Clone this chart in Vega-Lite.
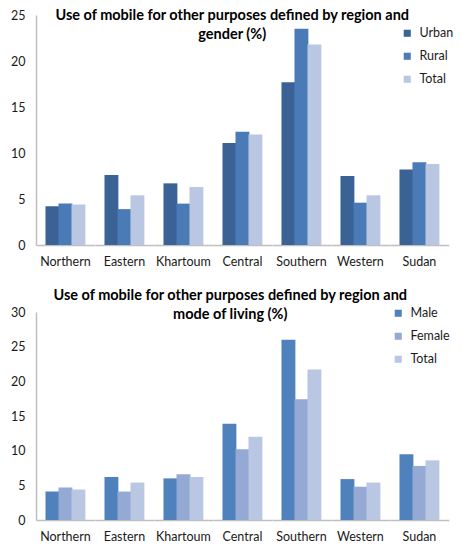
{
  "$schema": "https://vega.github.io/schema/vega-lite/v6.json",
  "background": "white",
  "padding": {"left": 10, "top": 7, "right": 5, "bottom": 5},
  "spacing": 18,
  "config": {
    "font": "Lato",
    "view": {"stroke": null},
    "bar": {"stroke": null, "strokeWidth": 0},
    "axis": {"labelFont": "Lato", "labelFontSize": 12.5, "labelColor": "#1a1a1a", "domainColor": "#BFBFBF", "domainWidth": 1.5, "ticks": false, "tickSize": 0, "grid": false, "title": null},
    "header": {"labelFont": "Lato", "labelFontSize": 12.5, "labelColor": "#1a1a1a", "labelOrient": "bottom", "labelPadding": 11, "title": null},
    "title": {"font": "Lato", "fontSize": 14.5, "fontWeight": "bold", "color": "#000", "anchor": "middle", "lineHeight": 19},
    "legend": {"labelFont": "Lato", "labelFontSize": 12.5, "labelColor": "#1a1a1a", "symbolType": "square", "symbolSize": 50, "symbolStrokeWidth": 0, "rowPadding": 10, "padding": 0, "labelOffset": 6, "title": null}
  },
  "resolve": {"scale": {"color": "independent"}, "legend": {"color": "independent"}},
  "vconcat": [
    {
      "data": {"values": [
        {"region": "Northern", "type": "Urban", "value": 4.2},
        {"region": "Northern", "type": "Rural", "value": 4.5},
        {"region": "Northern", "type": "Total", "value": 4.4},
        {"region": "Eastern", "type": "Urban", "value": 7.6},
        {"region": "Eastern", "type": "Rural", "value": 3.9},
        {"region": "Eastern", "type": "Total", "value": 5.4},
        {"region": "Khartoum", "type": "Urban", "value": 6.7},
        {"region": "Khartoum", "type": "Rural", "value": 4.5},
        {"region": "Khartoum", "type": "Total", "value": 6.3},
        {"region": "Central", "type": "Urban", "value": 11.1},
        {"region": "Central", "type": "Rural", "value": 12.3},
        {"region": "Central", "type": "Total", "value": 12.0},
        {"region": "Southern", "type": "Urban", "value": 17.7},
        {"region": "Southern", "type": "Rural", "value": 23.5},
        {"region": "Southern", "type": "Total", "value": 21.8},
        {"region": "Western", "type": "Urban", "value": 7.5},
        {"region": "Western", "type": "Rural", "value": 4.6},
        {"region": "Western", "type": "Total", "value": 5.4},
        {"region": "Sudan", "type": "Urban", "value": 8.2},
        {"region": "Sudan", "type": "Rural", "value": 9.0},
        {"region": "Sudan", "type": "Total", "value": 8.8}
      ]},
      "title": {"text": ["Use of mobile for other purposes defined by region and", "gender (%)"], "offset": -33},
      "facet": {"column": {"field": "region", "type": "nominal", "sort": ["Northern", "Eastern", "Khartoum", "Central", "Southern", "Western", "Sudan"], "header": {"labelOrient": "bottom", "title": null}}},
      "spacing": 0,
      "spec": {
        "width": 58.86,
        "height": 230,
        "mark": {"type": "bar", "width": 13.9, "stroke": null, "strokeWidth": 0},
        "encoding": {
          "x": {"field": "type", "type": "nominal", "sort": ["Urban", "Rural", "Total"], "scale": {"paddingInner": 0, "paddingOuter": 0.764}, "axis": {"labels": false, "domain": true}},
          "y": {"field": "value", "type": "quantitative", "scale": {"domain": [0, 25]}, "axis": {"values": [0, 5, 10, 15, 20, 25], "labelPadding": 11}},
          "color": {"field": "type", "type": "nominal", "sort": ["Urban", "Rural", "Total"], "scale": {"domain": ["Urban", "Rural", "Total"], "range": ["#3B6295", "#4A7BB7", "#B9C7E2"]}, "legend": {"orient": "none", "legendX": 365, "legendY": 12}}
        }
      }
    },
    {
      "data": {"values": [
        {"region": "Northern", "type": "Male", "value": 4.1},
        {"region": "Northern", "type": "Female", "value": 4.7},
        {"region": "Northern", "type": "Total", "value": 4.4},
        {"region": "Eastern", "type": "Male", "value": 6.2},
        {"region": "Eastern", "type": "Female", "value": 4.1},
        {"region": "Eastern", "type": "Total", "value": 5.4},
        {"region": "Khartoum", "type": "Male", "value": 6.0},
        {"region": "Khartoum", "type": "Female", "value": 6.6},
        {"region": "Khartoum", "type": "Total", "value": 6.2},
        {"region": "Central", "type": "Male", "value": 13.9},
        {"region": "Central", "type": "Female", "value": 10.2},
        {"region": "Central", "type": "Total", "value": 12.0},
        {"region": "Southern", "type": "Male", "value": 26.0},
        {"region": "Southern", "type": "Female", "value": 17.4},
        {"region": "Southern", "type": "Total", "value": 21.7},
        {"region": "Western", "type": "Male", "value": 5.9},
        {"region": "Western", "type": "Female", "value": 4.8},
        {"region": "Western", "type": "Total", "value": 5.4},
        {"region": "Sudan", "type": "Male", "value": 9.5},
        {"region": "Sudan", "type": "Female", "value": 7.8},
        {"region": "Sudan", "type": "Total", "value": 8.6}
      ]},
      "title": {"text": ["Use of mobile for other purposes defined by region and", "mode of living (%)"], "offset": -16},
      "facet": {"column": {"field": "region", "type": "nominal", "sort": ["Northern", "Eastern", "Khartoum", "Central", "Southern", "Western", "Sudan"], "header": {"labelOrient": "bottom", "title": null}}},
      "spacing": 0,
      "spec": {
        "width": 58.86,
        "height": 208,
        "mark": {"type": "bar", "width": 13.9, "stroke": null, "strokeWidth": 0},
        "encoding": {
          "x": {"field": "type", "type": "nominal", "sort": ["Male", "Female", "Total"], "scale": {"paddingInner": 0, "paddingOuter": 0.764}, "axis": {"labels": false, "domain": true}},
          "y": {"field": "value", "type": "quantitative", "scale": {"domain": [0, 30]}, "axis": {"values": [0, 5, 10, 15, 20, 25, 30], "labelPadding": 11}},
          "color": {"field": "type", "type": "nominal", "sort": ["Male", "Female", "Total"], "scale": {"domain": ["Male", "Female", "Total"], "range": ["#4F81BD", "#94A9D3", "#B9C7E2"]}, "legend": {"orient": "none", "legendX": 356, "legendY": -5}}
        }
      }
    }
  ]
}
